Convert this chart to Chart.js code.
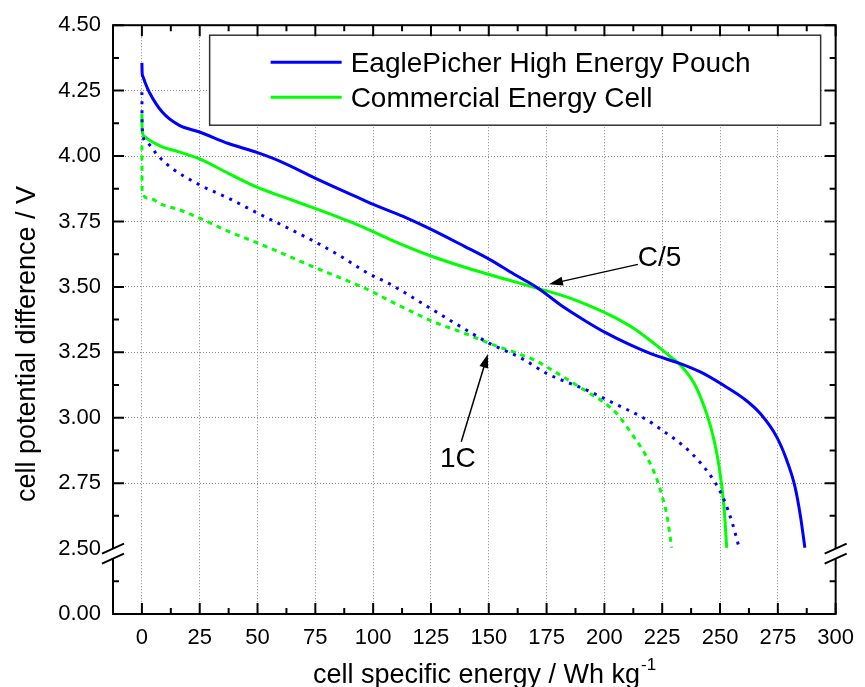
<!DOCTYPE html>
<html>
<head>
<meta charset="utf-8">
<script src="https://cdn.jsdelivr.net/npm/chart.js@4.4.1/dist/chart.umd.min.js"></script>
<style>
  html, body { margin: 0; padding: 0; background: #fff; }
</style>
</head>
<body>
<canvas id="dischargeChart" width="865" height="687"></canvas>
<script>
// values (energy in Wh/kg, voltage in V)
const epC5Energy = [0, 0.1, 0.4, 1.5, 3.2, 8.8, 16, 24.9, 37.4, 50, 60.3, 75.1, 86, 93.1, 100.3, 114.6, 125.3, 139.5, 150.3, 161, 171, 181.7, 191.8, 200.3, 210.3, 220.3, 233.1, 241.7, 251.7, 260.3, 267.4, 274.5, 278.8, 282.4, 284.8, 286.7];
const epC5Voltage = [4.356, 4.318, 4.305, 4.278, 4.244, 4.168, 4.118, 4.092, 4.048, 4.013, 3.978, 3.915, 3.871, 3.843, 3.814, 3.763, 3.719, 3.655, 3.605, 3.548, 3.497, 3.427, 3.37, 3.326, 3.282, 3.244, 3.206, 3.174, 3.123, 3.073, 3.016, 2.927, 2.839, 2.737, 2.623, 2.503];

const cellC5Energy = [0, 0.1, 1.0, 3.1, 8.8, 16, 24.9, 37.4, 50, 61.7, 75.1, 86, 93.1, 107.4, 125.3, 140.3, 157.4, 171, 184.5, 191.8, 203.1, 213.1, 221.7, 228.9, 233.1, 238.9, 243.2, 246.7, 249.6, 251.7, 252.9];
const cellC5Voltage = [4.162, 4.099, 4.075, 4.061, 4.035, 4.016, 3.989, 3.934, 3.88, 3.842, 3.799, 3.763, 3.738, 3.681, 3.617, 3.573, 3.529, 3.495, 3.459, 3.434, 3.389, 3.339, 3.282, 3.231, 3.199, 3.13, 3.041, 2.94, 2.813, 2.661, 2.503];

const ep1CEnergy = [0, 0.1, 1.7, 7.4, 13.1, 24.9, 37.4, 50, 61.7, 75.1, 86, 97.4, 107.4, 125.3, 140.3, 150.3, 164.6, 175.3, 191.7, 206, 217.4, 226, 234.6, 241.7, 247.6, 251.7, 255.3, 258.1];
const ep1CVoltage = [4.244, 4.111, 4.054, 3.997, 3.953, 3.89, 3.839, 3.782, 3.731, 3.671, 3.617, 3.554, 3.51, 3.415, 3.335, 3.284, 3.225, 3.168, 3.108, 3.047, 2.997, 2.946, 2.889, 2.826, 2.756, 2.687, 2.598, 2.509];

const cell1CEnergy = [0, 0.1, 3.1, 8.8, 16, 24.9, 37.4, 50, 61.7, 75.1, 87.4, 97.4, 107.4, 125.3, 140.3, 150.3, 170.3, 175.3, 191.7, 195.3, 199.6, 206, 211.7, 217.4, 221.7, 224.6, 227.1, 229.1];
const cell1CVoltage = [4.04, 3.858, 3.839, 3.814, 3.795, 3.763, 3.712, 3.668, 3.624, 3.573, 3.529, 3.491, 3.446, 3.37, 3.32, 3.284, 3.218, 3.193, 3.104, 3.084, 3.06, 3.009, 2.94, 2.864, 2.788, 2.712, 2.623, 2.503];

const seriesNames = ['EaglePicher High Energy Pouch', 'Commercial Energy Cell'];

const xTickValues = [0, 25, 50, 75, 100, 125, 150, 175, 200, 225, 250, 275, 300];
// the axis is broken: the lowest slot (2.25) carries the 0.00 label
const yTickValues = [2.25, 2.5, 2.75, 3, 3.25, 3.5, 3.75, 4, 4.25, 4.5];
const yTickLabels = ['0.00', '2.50', '2.75', '3.00', '3.25', '3.50', '3.75', '4.00', '4.25', '4.50'];

const FONT = "'Liberation Sans', Arial, Helvetica, sans-serif";
const BLUE = '#0000ff';
const GREEN = '#00ff00';

function toPoints(xs, ys) {
    return xs.map((x, i) => ({ x: x, y: ys[i] }));
}

function drawArrow(ctx, x1, y1, x2, y2) {
    const ang = Math.atan2(y2 - y1, x2 - x1);
    const len = 14, half = 4.5;
    ctx.beginPath();
    ctx.moveTo(x1, y1);
    ctx.lineTo(x2 - Math.cos(ang) * len * 0.7, y2 - Math.sin(ang) * len * 0.7);
    ctx.stroke();
    ctx.beginPath();
    ctx.moveTo(x2, y2);
    ctx.lineTo(x2 - len * Math.cos(ang) + half * Math.sin(ang), y2 - len * Math.sin(ang) - half * Math.cos(ang));
    ctx.lineTo(x2 - len * Math.cos(ang) - half * Math.sin(ang), y2 - len * Math.sin(ang) + half * Math.cos(ang));
    ctx.closePath();
    ctx.fill();
}

// legend box sits inside the plot, over the grid
const legendBox = {
    id: 'legendBox',
    beforeDatasetsDraw(chart) {
        const ctx = chart.ctx;
        const area = chart.chartArea;
        const w = 611, h = 90;
        const left = area.right - 15 - w;
        const top = area.top + 10;
        ctx.save();
        ctx.fillStyle = '#fff';
        ctx.fillRect(left, top, w, h);
        ctx.strokeStyle = '#333';
        ctx.lineWidth = 1.5;
        ctx.strokeRect(left, top, w, h);
        const entries = chart.data.datasets.filter(d => d.inLegend);
        entries.forEach((d, i) => {
            const y = top + 27 + i * 35;
            ctx.strokeStyle = d.borderColor;
            ctx.lineWidth = 3;
            ctx.beginPath();
            ctx.moveTo(left + 61, y);
            ctx.lineTo(left + 132, y);
            ctx.stroke();
            ctx.fillStyle = '#000';
            ctx.font = '28px ' + FONT;
            ctx.textBaseline = 'alphabetic';
            ctx.fillText(d.label, left + 141, y + 10);
        });
        ctx.restore();
    }
};

// frame, inward ticks, axis break, annotations and axis titles
const frameAndNotes = {
    id: 'frameAndNotes',
    afterDatasetsDraw(chart) {
        const ctx = chart.ctx;
        const area = chart.chartArea;
        const xs = chart.scales.x, ys = chart.scales.y;
        ctx.save();
        ctx.strokeStyle = '#000';
        ctx.fillStyle = '#000';
        ctx.lineWidth = 2;
        ctx.strokeRect(area.left, area.top, area.right - area.left, area.bottom - area.top);

        ctx.lineWidth = 2;
        ctx.beginPath();
        xTickValues.forEach((v, i) => {
            const px = xs.getPixelForValue(v);
            ctx.moveTo(px, area.bottom); ctx.lineTo(px, area.bottom - 11);
            ctx.moveTo(px, area.top); ctx.lineTo(px, area.top + 11);
            if (i < xTickValues.length - 1) {
                const mx = xs.getPixelForValue((v + xTickValues[i + 1]) / 2);
                ctx.moveTo(mx, area.bottom); ctx.lineTo(mx, area.bottom - 6);
                ctx.moveTo(mx, area.top); ctx.lineTo(mx, area.top + 6);
            }
        });
        yTickValues.forEach((v, i) => {
            const py = ys.getPixelForValue(v);
            if (v !== 2.5) {
                ctx.moveTo(area.left, py); ctx.lineTo(area.left + 11, py);
                ctx.moveTo(area.right, py); ctx.lineTo(area.right - 11, py);
            }
            if (i < yTickValues.length - 1) {
                const my = ys.getPixelForValue((v + yTickValues[i + 1]) / 2);
                ctx.moveTo(area.left, my); ctx.lineTo(area.left + 6, my);
                ctx.moveTo(area.right, my); ctx.lineTo(area.right - 6, my);
            }
        });
        ctx.stroke();

        // axis break marks at the 2.50 level
        const by = ys.getPixelForValue(2.5);
        [area.left, area.right].forEach(ax => {
            ctx.fillStyle = '#fff';
            ctx.fillRect(ax - 3, by, 6, 10);
            ctx.strokeStyle = '#000';
            ctx.lineWidth = 2;
            ctx.beginPath();
            ctx.moveTo(ax - 11, by + 5); ctx.lineTo(ax + 11, by - 5);
            ctx.moveTo(ax - 11, by + 15); ctx.lineTo(ax + 11, by + 5);
            ctx.stroke();
        });

        // rate annotations
        ctx.fillStyle = '#000';
        ctx.strokeStyle = '#000';
        ctx.lineWidth = 1.5;
        drawArrow(ctx, xs.getPixelForValue(214.5), ys.getPixelForValue(3.586),
            xs.getPixelForValue(176), ys.getPixelForValue(3.51));
        drawArrow(ctx, xs.getPixelForValue(138.1), ys.getPixelForValue(2.908),
            xs.getPixelForValue(149.6), ys.getPixelForValue(3.244));
        ctx.font = '28px ' + FONT;
        ctx.textAlign = 'left';
        ctx.textBaseline = 'alphabetic';
        ctx.fillText('C/5', xs.getPixelForValue(214.4), ys.getPixelForValue(3.579));
        ctx.fillText('1C', xs.getPixelForValue(128.9), ys.getPixelForValue(2.813));
        ctx.restore();
    },
    afterDraw(chart) {
        const ctx = chart.ctx;
        ctx.save();
        ctx.fillStyle = '#000';
        ctx.textBaseline = 'alphabetic';
        // x title with superscript
        const main = 'cell specific energy / Wh kg';
        const sup = '-1';
        ctx.font = '27px ' + FONT;
        const w1 = ctx.measureText(main).width;
        ctx.font = '17px ' + FONT;
        const w2 = ctx.measureText(sup).width;
        const start = 484 - (w1 + w2) / 2;
        ctx.font = '27px ' + FONT;
        ctx.textAlign = 'left';
        ctx.fillText(main, start, 683);
        ctx.font = '17px ' + FONT;
        ctx.fillText(sup, start + w1 + 1, 670);
        // y title
        ctx.translate(35, 344);
        ctx.rotate(-Math.PI / 2);
        ctx.font = '27px ' + FONT;
        ctx.textAlign = 'center';
        ctx.fillText('cell potential difference / V', 0, 0);
        ctx.restore();
    }
};

const ctx = document.getElementById('dischargeChart').getContext('2d');

new Chart(ctx, {
    type: 'line',
    data: {
        datasets: [
            {
                label: seriesNames[0] + ' 1C',
                data: toPoints(ep1CEnergy, ep1CVoltage),
                borderColor: BLUE,
                borderWidth: 3,
                borderDash: [3, 6],
                inLegend: false
            },
            {
                label: seriesNames[1] + ' 1C',
                data: toPoints(cell1CEnergy, cell1CVoltage),
                borderColor: GREEN,
                borderWidth: 3,
                borderDash: [5, 5],
                inLegend: false
            },
            {
                label: seriesNames[0],
                data: toPoints(epC5Energy, epC5Voltage),
                borderColor: BLUE,
                borderWidth: 3,
                inLegend: true
            },
            {
                label: seriesNames[1],
                data: toPoints(cellC5Energy, cellC5Voltage),
                borderColor: GREEN,
                borderWidth: 3,
                inLegend: true
            }
        ]
    },
    options: {
        responsive: false,
        animation: false,
        devicePixelRatio: 1,
        parsing: false,
        elements: {
            point: { radius: 0 },
            line: { cubicInterpolationMode: 'monotone', fill: false, borderCapStyle: 'butt' }
        },
        layout: { padding: { top: 23, right: 22, left: 0, bottom: 0 } },
        plugins: {
            legend: { display: false },
            tooltip: { enabled: false }
        },
        scales: {
            x: {
                type: 'linear',
                min: -12.5,
                max: 300,
                afterFit(scale) { scale.height = 73; },
                afterBuildTicks(scale) { scale.ticks = xTickValues.map(v => ({ value: v })); },
                border: { display: false, dash: [1, 2] },
                grid: {
                    drawTicks: false,
                    lineWidth: 1,
                    color: c => (c.tick && c.tick.value >= 0 && c.tick.value < 300) ? '#888' : 'rgba(0,0,0,0)'
                },
                ticks: {
                    color: '#000',
                    font: { family: FONT, size: 22 },
                    padding: 11,
                    maxRotation: 0,
                    autoSkip: false,
                    callback: v => String(v)
                }
            },
            y: {
                type: 'linear',
                min: 2.25,
                max: 4.5,
                afterFit(scale) { scale.width = 113; },
                afterBuildTicks(scale) { scale.ticks = yTickValues.map(v => ({ value: v })); },
                border: { display: false, dash: [1, 2] },
                grid: {
                    drawTicks: false,
                    lineWidth: 1,
                    color: c => (c.tick && c.tick.value > 2.5 && c.tick.value < 4.5) ? '#888' : 'rgba(0,0,0,0)'
                },
                ticks: {
                    color: '#000',
                    font: { family: FONT, size: 22 },
                    padding: 12,
                    autoSkip: false,
                    callback: (v) => yTickLabels[yTickValues.indexOf(v)]
                }
            }
        }
    },
    plugins: [legendBox, frameAndNotes]
});
</script>
</body>
</html>
